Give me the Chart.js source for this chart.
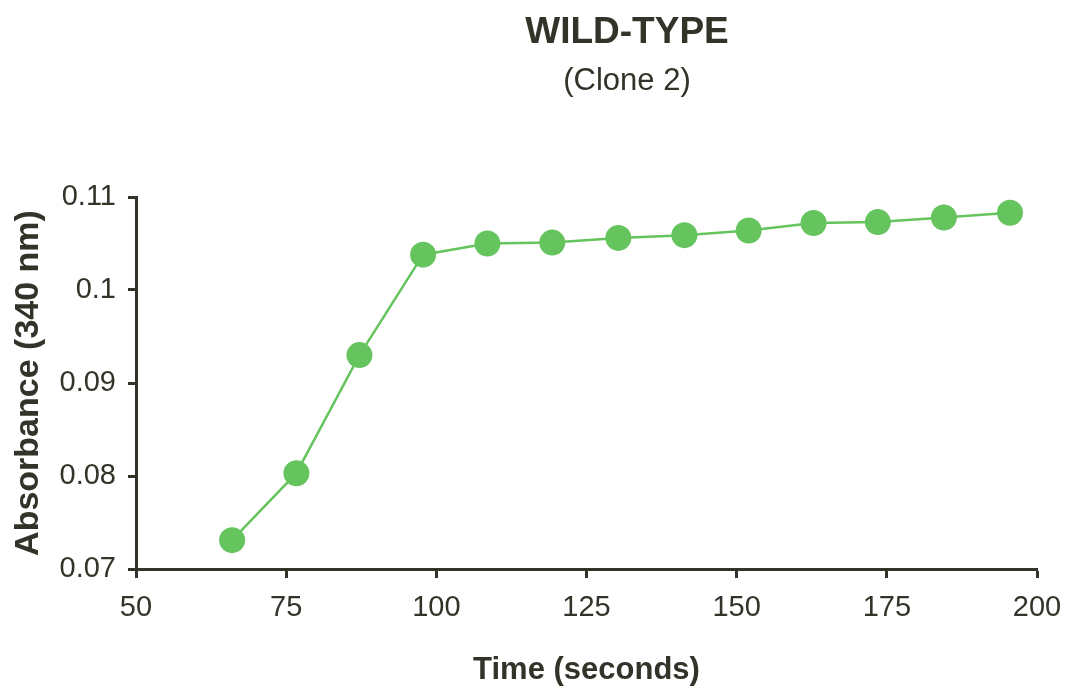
<!DOCTYPE html>
<html>
<head>
<meta charset="utf-8">
<script src="https://cdn.jsdelivr.net/npm/chart.js@4/dist/chart.umd.min.js"></script>
<style>
  html, body { margin: 0; padding: 0; background: #ffffff; }
  #wrap { width: 1067px; height: 692px; position: relative; }
</style>
</head>
<body>
<div id="wrap"><canvas id="c" width="1067" height="692"></canvas></div>
<script>
const chartTitle = "WILD-TYPE";
const chartSubtitle = "(Clone 2)";
const xAxisTitle = "Time (seconds)";
const yAxisTitle = "Absorbance (340 nm)";

const timeSeconds = [66, 76.7, 87.2, 97.8, 108.5, 119.3, 130.3, 141.3, 152, 162.8, 173.5, 184.5, 195.5];
const absorbance = [0.0731, 0.0803, 0.0930, 0.1038, 0.1050, 0.1051, 0.1056, 0.1059, 0.1064, 0.1072, 0.1073, 0.1078, 0.1083];

const xTickValues = [50, 75, 100, 125, 150, 175, 200];
const xTickLabels = ["50", "75", "100", "125", "150", "175", "200"];
const yTickValues = [0.07, 0.08, 0.09, 0.1, 0.11];
const yTickLabels = ["0.07", "0.08", "0.09", "0.1", "0.11"];

const green = '#66c45e';
const axisColor = '#333329';

const titlePlugin = {
  id: 'titles',
  afterDraw(chart) {
    const ctx = chart.ctx;
    ctx.save();
    ctx.fillStyle = axisColor;
    ctx.textAlign = 'center';
    ctx.textBaseline = 'alphabetic';
    ctx.font = 'bold 37px "Liberation Sans", Arial, sans-serif';
    ctx.fillText(chartTitle, 627, 43);
    ctx.font = '31px "Liberation Sans", Arial, sans-serif';
    ctx.fillText(chartSubtitle, 627, 90);
    ctx.restore();
  }
};

const points = timeSeconds.map((t, i) => ({ x: t, y: absorbance[i] }));

new Chart(document.getElementById('c'), {
  type: 'line',
  data: {
    datasets: [{
      data: points,
      borderColor: green,
      backgroundColor: green,
      borderWidth: 2.5,
      pointRadius: 13,
      pointHoverRadius: 13,
      pointBorderWidth: 0,
      pointBackgroundColor: green,
      tension: 0
    }]
  },
  plugins: [titlePlugin],
  options: {
    responsive: false,
    animation: false,
    devicePixelRatio: 1,
    layout: { autoPadding: false, padding: { top: 197, right: 30, left: 0, bottom: 0 } },
    plugins: { legend: { display: false }, tooltip: { enabled: false }, title: { display: false } },
    scales: {
      x: {
        type: 'linear',
        min: 50, max: 200,
        afterBuildTicks(scale) { scale.ticks = xTickValues.map(v => ({ value: v })); },
        afterFit(scale) { scale.height = 123; scale.paddingRight = 0; scale.paddingLeft = 0; },
        grid: { drawOnChartArea: false, drawTicks: true, tickLength: 9, tickWidth: 3, tickColor: axisColor },
        border: { display: true, color: axisColor, width: 3 },
        ticks: {
          color: axisColor,
          padding: 13,
          maxRotation: 0,
          font: { family: '"Liberation Sans", Arial, sans-serif', size: 29 },
          callback: (v) => { const i = xTickValues.indexOf(v); return i >= 0 ? xTickLabels[i] : ''; }
        },
        title: {
          display: true, text: xAxisTitle, color: axisColor,
          font: { family: '"Liberation Sans", Arial, sans-serif', size: 31, weight: 'bold' },
          padding: { top: 0, bottom: 3 }
        }
      },
      y: {
        type: 'linear',
        min: 0.07, max: 0.11,
        afterBuildTicks(scale) { scale.ticks = yTickValues.map(v => ({ value: v })); },
        afterFit(scale) { scale.width = 136; },
        grid: { drawOnChartArea: false, drawTicks: true, tickLength: 8, tickWidth: 3, tickColor: axisColor },
        border: { display: true, color: axisColor, width: 3 },
        ticks: {
          color: axisColor,
          padding: 12,
          font: { family: '"Liberation Sans", Arial, sans-serif', size: 29 },
          callback: (v) => { const i = yTickValues.findIndex(t => Math.abs(t - v) < 1e-9); return i >= 0 ? yTickLabels[i] : ''; }
        },
        title: {
          display: true, text: yAxisTitle, color: axisColor,
          font: { family: '"Liberation Sans", Arial, sans-serif', size: 34, weight: 'bold' },
          padding: { top: 8, bottom: 0 }
        }
      }
    }
  }
});
</script>
</body>
</html>
